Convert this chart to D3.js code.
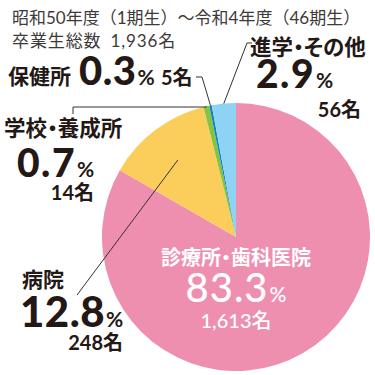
<!DOCTYPE html>
<meta charset="utf-8">
<style>
body{margin:0;background:#fff;}
text{font-family:Lato,"Noto Sans CJK JP",sans-serif;}
.lbl{font-weight:700;font-feature-settings:"palt" 1;}
.head{fill:#3e3a39;font-size:17px;}
</style>
<svg width="375" height="375"></svg>
<script src="https://cdn.jsdelivr.net/npm/d3@7"></script>
<script>

// data
var categories = ["診療所・歯科医院","病院","学校・養成所","保健所","進学・その他"];
var percents = [83.3, 12.8, 0.7, 0.3, 2.9];
var counts = [1613, 248, 14, 5, 56];
var colors = ["#ee8fb0","#fbce5b","#86c440","#0a86c8","#8fd3f4"];
var headLines = ["昭和50年度（1期生）〜令和4年度（46期生）","卒業生総数 1,936名"];

var ink = "#231815";
var svg = d3.select("svg");
var cx = 236, cy = 237, r = 134;

var pie = d3.pie().sort(null).value(function(d){return d;});
var arc = d3.arc().innerRadius(0).outerRadius(r);
var arcs = pie(percents);

var g = svg.append("g").attr("transform","translate("+cx+","+cy+")");
g.selectAll("path").data(arcs).enter().append("path")
  .attr("d",arc)
  .attr("fill",function(d,i){return colors[i];});

// point on a slice at fraction k of the radius
function pt(i,k){
  var a = (arcs[i].startAngle+arcs[i].endAngle)/2;
  return [cx+Math.sin(a)*r*k, cy-Math.cos(a)*r*k];
}

// leader lines
var lines = svg.append("g").attr("fill","none").attr("stroke","#333").attr("stroke-width",1);
var p1 = pt(1,0.72);
lines.append("path").attr("d","M77,295L"+p1[0]+","+p1[1]);
var p2 = pt(2,1);
lines.append("path").attr("d","M73,114V107H"+p2[0]+"L"+p2[0]+","+p2[1]);
var p3 = pt(3,1);
lines.append("path").attr("d","M196,77H202L"+p3[0]+","+p3[1]);
var p4 = pt(4,1);
lines.append("path").attr("d","M252,43H247L"+p4[0]+","+p4[1]);

// heading
svg.append("text").attr("class","head").attr("x",12).attr("y",24).text(headLines[0]);
var h2 = svg.append("text").attr("class","head").attr("x",12).attr("y",47).attr("letter-spacing",0.9);
var hp = headLines[1].split(" ");
h2.append("tspan").text(hp[0]);
h2.append("tspan").attr("dx",9).text(hp[1]);

function fmt(n){return d3.format(",")(n)+"名";}

function label(x,y,txt,size,fill,anchor){
  return svg.append("text").attr("class","lbl").attr("x",x).attr("y",y)
    .attr("font-size",size).attr("fill",fill).attr("text-anchor",anchor||"start").text(txt);
}
function bigNum(x,y,i,size,fill,weight,anchor,ls){
  var t = svg.append("text").attr("x",x).attr("y",y).attr("fill",fill)
    .attr("text-anchor",anchor||"start").style("font-weight",weight);
  t.append("tspan").attr("font-size",size).attr("letter-spacing",ls).text(percents[i].toFixed(1));
  t.append("tspan").attr("font-size",21).attr("dx",1).style("font-weight",weight==900?700:weight).text("%");
  return t;
}

// 保健所
label(8,84,categories[3],21,ink);
bigNum(79,85,3,40,ink,900,"start",0.5);
label(161,85,fmt(counts[3]),20,ink);

// 進学・その他
label(250,55,categories[4],21.5,ink);
bigNum(256,88,4,39,ink,900,"start",1.5);
label(361,117,fmt(counts[4]),20,ink,"end");

// 学校・養成所
label(4,136,categories[2],21.5,ink);
bigNum(17,177,2,39,ink,900,"start",1.5);
label(94,200,fmt(counts[2]),20,ink,"end");

// 病院
label(22,287,categories[1],21,ink);
bigNum(20,327,1,42,ink,900,"start",0.5);
label(123,350,fmt(counts[1]),20,ink,"end");

// 診療所・歯科医院
label(236,265,categories[0],20,"#fff","middle");
bigNum(236,302,0,40,"#fff",500,"middle",1);
label(236,328,fmt(counts[0]),20,"#fff","middle").style("font-weight",500);

</script>
